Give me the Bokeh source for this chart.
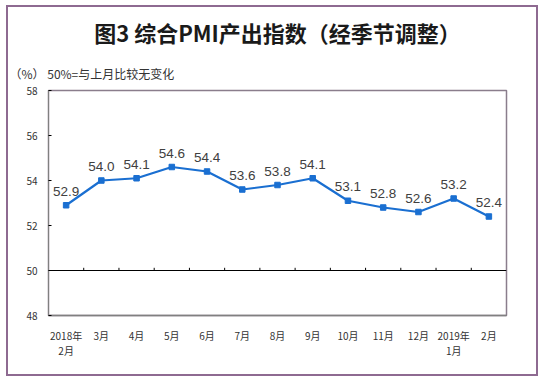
from bokeh.plotting import figure
from bokeh.models import Range1d, FixedTicker, Span, Title
from bokeh.core.properties import value
from bokeh.embed import file_html
from bokeh.resources import INLINE

months = ["2018年\n2月", "3月", "4月", "5月", "6月", "7月", "8月", "9月",
          "10月", "11月", "12月", "2019年\n1月", "2月"]
pmi = [52.9, 54.0, 54.1, 54.6, 54.4, 53.6, 53.8, 54.1, 53.1, 52.8, 52.6, 53.2, 52.4]
y_ticks = [48, 50, 52, 54, 56, 58]
baseline = 50
title_text = "图3 综合PMI产出指数（经季节调整）"
note_text = "（%） 50%=与上月比较无变化"

CJK = "Noto Sans CJK SC"
idx = list(range(len(months)))

W, H = 532, 371
p = figure(width=W, height=H, output_backend="svg", toolbar_location=None,
           x_range=Range1d(-0.5, len(months) - 0.5), y_range=Range1d(48, 58),
           min_border_left=40, min_border_right=34, min_border_top=83,
           min_border_bottom=63)
p.styles = {"border": "2px solid #8e6a91", "margin-left": "6px", "margin-top": "5px"}
p.grid.visible = False
p.outline_line_color = "#8a7d8c"
p.outline_line_width = 1.5

# y axis
p.yaxis.ticker = FixedTicker(ticks=y_ticks)
p.yaxis.major_tick_in = 3
p.yaxis.major_tick_out = 0
p.yaxis.minor_tick_line_color = None
p.yaxis.axis_line_color = "#808080"
p.yaxis.major_label_text_font = CJK
p.yaxis.major_label_text_font_size = "10px"
p.yaxis.major_label_text_color = "#333333"
p.yaxis.major_label_standoff = 11

# x axis
p.xaxis.ticker = FixedTicker(ticks=idx)
p.xaxis.major_label_overrides = {i: m for i, m in zip(idx, months)}
p.xaxis.major_tick_line_color = None
p.xaxis.minor_tick_line_color = None
p.xaxis.axis_line_color = "#808080"
p.xaxis.axis_line_width = 1.5
p.xaxis.major_label_text_font = CJK
p.xaxis.major_label_text_font_size = "10px"
p.xaxis.major_label_text_color = "#333333"
p.xaxis.major_label_text_line_height = 1.0
p.xaxis.major_label_standoff = 6

# 50 line with ticks at category boundaries
p.add_layout(Span(location=baseline, dimension="width", line_color="#000000", line_width=1))
bounds = [i + 0.5 for i in idx[:-1]]
p.segment(x0=bounds, x1=bounds, y0=[baseline] * len(bounds), y1=[baseline + 0.12] * len(bounds),
          line_color="#000000", line_width=1)

# series
p.line(idx, pmi, line_color="#1a6fd1", line_width=2.2)
p.scatter(idx, pmi, marker="square", size=5.5, fill_color="#1a6fd1", line_color="#1a6fd1")
p.text(idx, pmi, text=[f"{v:.1f}" for v in pmi], text_font=value("Liberation Sans"),
       text_font_size="13.5px", text_color="#404040", text_align="center",
       text_baseline="alphabetic", y_offset=-14)

# note line (closest to frame), then main title above it
p.add_layout(Title(text=note_text, align="left", offset=-39, standoff=18,
                   text_font=CJK, text_font_size="12px", text_font_style="normal",
                   text_color="#333333"), "above")
p.add_layout(Title(text=title_text, align="center", standoff=12,
                   text_font=CJK, text_font_size="22px", text_font_style="bold",
                   text_color="#1a1a1a"), "above")

open("out.html", "w").write(file_html(p, INLINE))
